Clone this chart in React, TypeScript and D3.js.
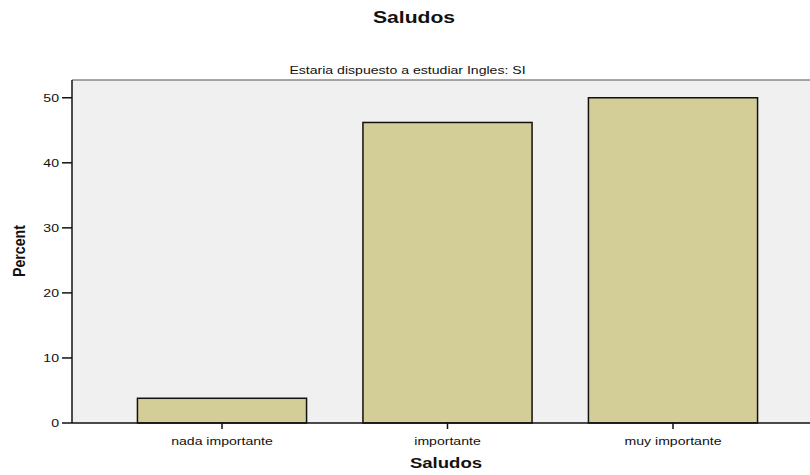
import React from "react";
import * as d3 from "d3";

const categories = ["nada importante", "importante", "muy importante"];
const percents = [3.8, 46.2, 50.0];
const yTicks = [0, 10, 20, 30, 40, 50];

const SX = 1.28;

function SText(props: { x: number; y: number; anchor?: string; size: number; bold?: boolean; children: React.ReactNode }) {
  const { x, y, anchor = "middle", size, bold, children } = props;
  return (
    <text transform={`translate(${x},${y}) scale(${SX},1)`} textAnchor={anchor} fontSize={size}
      fontWeight={bold ? "bold" : "normal"} fill="#111">{children}</text>
  );
}

export default function App() {
  const W = 810, H = 475;
  const panelLeft = 72, panelTop = 80, panelRight = 810, panelBottom = 423;
  const y = d3.scaleLinear().domain([0, 50]).range([panelBottom, 97.75]);
  const x = d3.scaleBand<string>().domain(categories).range([109.25, 785.75]).paddingInner(0.25).paddingOuter(0.125);
  const font = "'Liberation Sans', Arial, sans-serif";
  return (
    <svg width={W} height={H} style={{ position: "absolute", left: 0, top: 0 }} fontFamily={font}>
      <rect x={0} y={0} width={W} height={H} fill="#ffffff" />
      <SText x={414} y={23} size={16.5} bold>Saludos</SText>
      <SText x={407.5} y={74} size={11}>Estaria dispuesto a estudiar Ingles: SI</SText>
      <rect x={panelLeft} y={panelTop} width={panelRight - panelLeft} height={panelBottom - panelTop} fill="#f0f0f0" />
      <line x1={panelLeft} x2={panelRight} y1={panelTop} y2={panelTop} stroke="#8a8a8a" strokeWidth={1.5} />
      {categories.map((c, i) => (
        <rect key={c} x={x(c)} y={y(percents[i])} width={x.bandwidth()} height={y(0) - y(percents[i])}
          fill="#d3ce98" stroke="#111" strokeWidth={1.5} />
      ))}
      <line x1={panelLeft} x2={panelLeft} y1={panelTop} y2={panelBottom} stroke="#222" strokeWidth={1.6} />
      <line x1={panelLeft} x2={panelRight} y1={panelBottom} y2={panelBottom} stroke="#111" strokeWidth={1.5} />
      {yTicks.map(t => (
        <g key={t}>
          <line x1={panelLeft - 10} x2={panelLeft} y1={y(t)} y2={y(t)} stroke="#111" strokeWidth={1.5} />
          <SText x={panelLeft - 13} y={y(t) + 4} anchor="end" size={11}>{t}</SText>
        </g>
      ))}
      {categories.map(c => {
        const cx = (x(c) as number) + x.bandwidth() / 2;
        return (
          <g key={c}>
            <line x1={cx} x2={cx} y1={panelBottom} y2={panelBottom + 6} stroke="#111" strokeWidth={1.5} />
            <SText x={cx} y={445} size={11}>{c}</SText>
          </g>
        );
      })}
      <SText x={446} y={468} size={14.5} bold>Saludos</SText>
      <text transform="translate(25,251) rotate(-90)" textAnchor="middle" fontSize={16} fontWeight="bold"
        fill="#111" textLength={52} lengthAdjust="spacingAndGlyphs"
        fontFamily="'Liberation Sans Narrow', 'Liberation Sans', sans-serif">Percent</text>
    </svg>
  );
}
